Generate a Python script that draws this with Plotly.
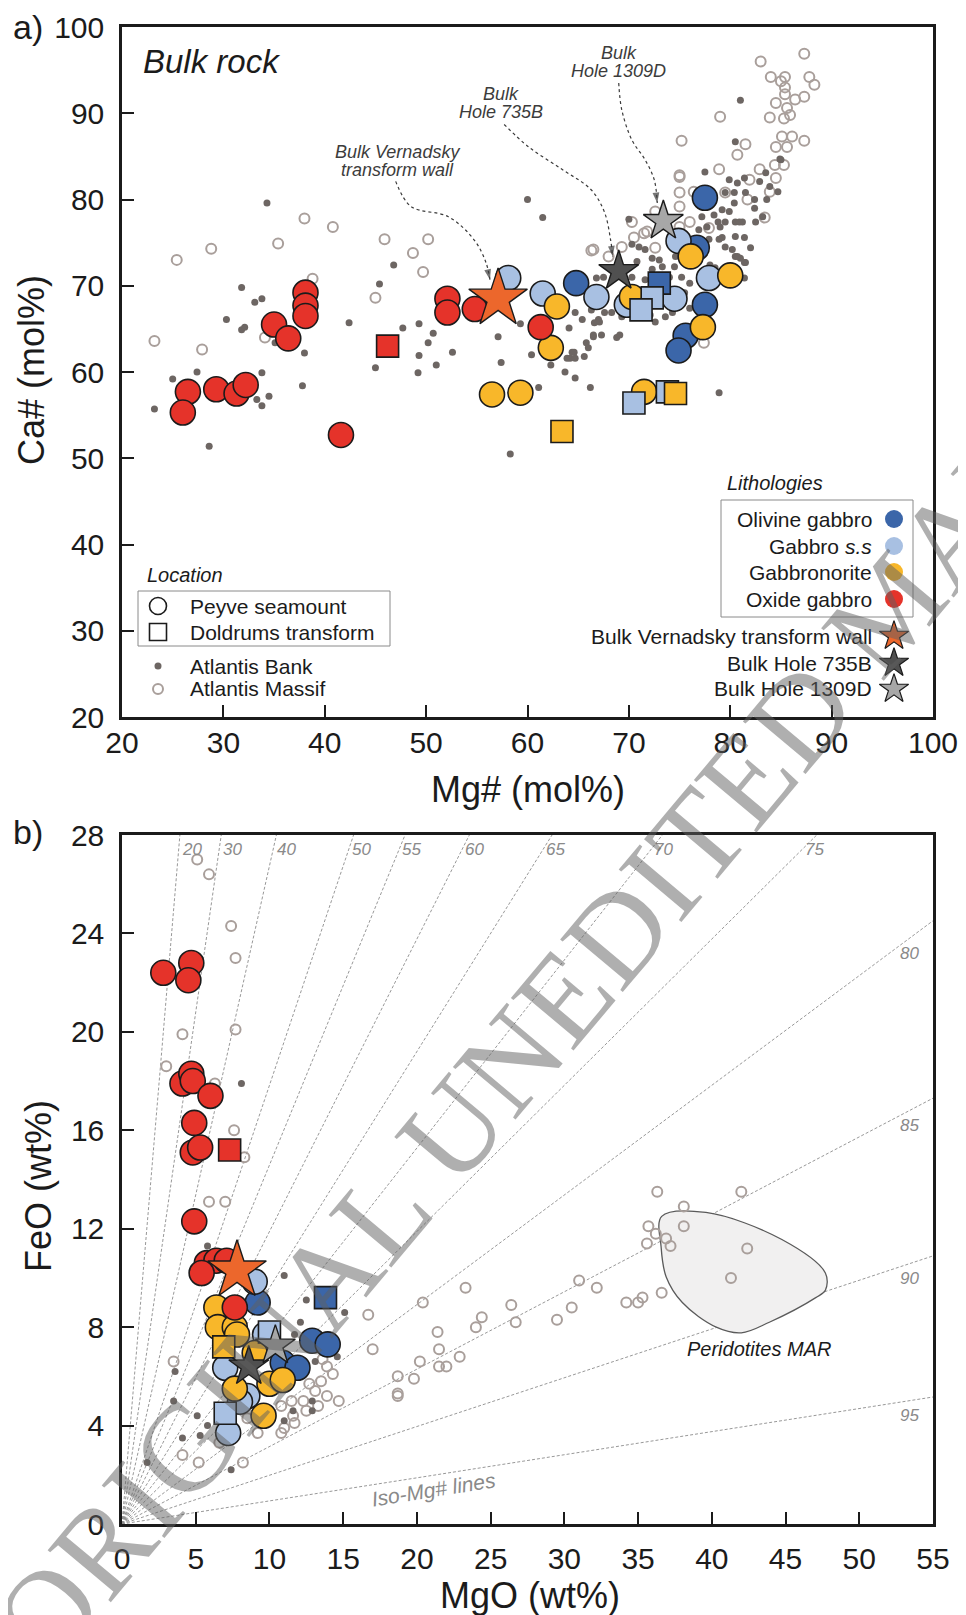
import plotly.graph_objects as go

# page (browser) pixel geometry; the html body adds an 8 px margin
BODY = 8
W, H = 966 - BODY, 1615 - BODY
PL, PR, PT, PB = 122, 933, 27, 1524          # plot-area edges in page pixels
ML, MT = PL - BODY, PT - BODY
MR, MB = W - (PR - BODY), H - (PB - BODY)

# ================= panel a) Mg# vs Ca# (mol%) =================
# Peyve seamount (circles) / Doldrums transform (squares)
ol_gab_mg = [64.8, 77.5, 76.7, 77.5, 75.6, 74.9]
ol_gab_ca = [70.3, 80.2, 74.4, 67.8, 64.2, 62.5]
ol_gab_sq_mg = [73.0]
ol_gab_sq_ca = [70.3]
gab_ss_mg = [58.1, 61.5, 66.8, 74.9, 69.8, 74.5, 77.9]
gab_ss_ca = [70.9, 69.1, 68.7, 75.2, 67.8, 68.5, 70.9]
gab_ss_sq_mg = [72.3, 71.2, 70.5, 73.8]
gab_ss_sq_ca = [68.6, 67.2, 56.4, 57.7]
gbn_mg = [62.9, 62.3, 56.5, 59.3, 76.1, 70.3, 80.0, 77.3, 71.5]
gbn_ca = [67.6, 62.8, 57.4, 57.6, 73.4, 68.7, 71.2, 65.2, 57.7]
gbn_sq_mg = [63.4, 74.6]
gbn_sq_ca = [53.1, 57.5]
ox_mg = [26.5, 26.0, 29.3, 31.3, 32.2, 41.6, 35.0, 36.4, 38.1, 38.1, 38.1, 52.1, 52.1, 54.8, 61.3]
ox_ca = [57.7, 55.3, 58.0, 57.5, 58.5, 52.7, 65.5, 63.9, 69.2, 67.7, 66.5, 68.5, 66.9, 67.3, 65.2]
ox_sq_mg = [46.2]
ox_sq_ca = [63.0]
star_names = ["Bulk Vernadsky transform wall", "Bulk Hole 735B", "Bulk Hole 1309D"]
star_mg = [57.1, 69.0, 73.4]
star_ca = [68.5, 71.7, 77.5]

bank_a_mg = [34.3, 31.8, 33.1, 33.8, 30.3, 31.8, 32.1, 38.0, 42.4, 46.8, 45.4, 47.7, 49.3, 50.7, 52.6,
             49.3, 35.1, 57.1, 25.0, 27.4, 23.2, 28.6, 33.8, 34.5, 33.3, 33.8, 37.8, 50.2, 49.2, 51.0,
             45.0, 57.4, 58.3, 59.3, 60.4, 61.1, 62.3, 63.7, 64.7, 66.2, 64.1, 64.7, 65.4, 65.8, 65.6,
             66.5, 67.0, 64.2, 64.4, 66.3, 66.8, 78.9, 77.5, 79.9, 80.7, 81.4, 82.9, 83.5, 84.9, 83.9,
             84.7, 83.6, 82.4, 81.5, 80.4, 79.5, 80.4, 79.2, 78.4, 79.9, 80.5, 81.2, 82.5, 83.2, 79.5,
             78.8, 79.0, 77.7, 77.2, 76.9, 79.2, 80.5, 81.4, 82.0, 80.2, 79.5, 78.9, 77.9, 80.5, 81.0,
             81.5, 78.0, 78.5, 79.2, 79.7, 78.9, 76.2, 74.6, 74.5, 75.2, 74.0, 73.3, 73.0, 72.3, 71.6,
             71.0, 70.3, 70.8, 70.3, 72.3, 71.6, 76.0, 75.5, 76.0, 74.3, 73.6, 72.6, 72.1, 67.5, 70.0,
             70.3, 69.3, 68.3, 67.6, 66.6, 67.1, 66.5, 67.3, 68.8, 69.1, 64.6, 66.0, 63.9, 64.7, 81.4,
             81.0, 80.5, 85.0, 82.4, 80.9, 81.4, 80.7, 60.0, 61.5]
bank_a_ca = [79.6, 69.8, 68.1, 68.5, 66.1, 64.9, 65.2, 62.2, 65.7, 72.4, 70.2, 65.1, 65.6, 64.5, 62.3,
             61.9, 63.4, 64.1, 59.2, 60.0, 55.7, 51.4, 59.9, 57.2, 56.8, 56.1, 58.4, 63.4, 59.9, 60.8,
             60.5, 61.1, 50.5, 65.6, 62.0, 58.2, 60.8, 60.0, 59.3, 58.2, 65.1, 66.9, 66.1, 63.4, 61.8,
             64.1, 66.1, 61.6, 62.3, 67.2, 70.9, 57.6, 83.2, 82.3, 81.9, 82.5, 82.1, 83.1, 84.7, 81.5,
             80.9, 80.0, 80.0, 80.8, 80.8, 80.8, 79.6, 78.8, 78.2, 78.6, 77.4, 77.4, 77.4, 78.0, 77.4,
             77.4, 76.8, 76.8, 78.0, 76.5, 75.6, 75.7, 75.6, 74.4, 74.2, 74.5, 75.4, 75.4, 73.4, 73.2,
             72.7, 72.4, 72.1, 71.6, 71.9, 71.0, 73.8, 73.4, 72.2, 71.0, 71.0, 72.2, 73.0, 73.2, 74.2,
             74.5, 74.8, 72.8, 71.0, 71.9, 70.7, 70.3, 69.2, 67.4, 66.9, 66.4, 65.8, 66.6, 71.0, 77.7,
             66.9, 66.4, 66.9, 66.9, 65.7, 65.8, 64.3, 64.3, 64.0, 64.3, 62.3, 62.8, 61.6, 61.6, 70.9,
             91.5, 86.7, 84.6, 79.0, 77.4, 72.7, 73.4, 80.0, 77.9]

massif_a_mg = [25.4, 28.8, 35.4, 38.0, 40.8, 45.9, 48.7, 50.2, 49.7, 45.0, 38.8, 23.2, 27.9, 34.1,
               83.0, 87.3, 84.0, 85.0, 85.4, 87.8, 88.3, 85.4, 85.4, 84.5, 86.4, 87.3, 85.6, 85.9,
               83.9, 85.3, 79.0, 85.1, 84.5, 85.6, 86.1, 87.3, 75.2, 81.5, 80.7, 84.4, 85.3, 82.9,
               81.9, 78.9, 75.0, 84.5, 83.9, 81.7, 83.4, 79.5, 75.0, 75.0, 76.4, 72.6, 71.5, 70.5,
               69.3, 68.0, 66.5, 76.0, 75.0, 74.3, 77.4, 76.2, 66.3, 75.0, 70.3, 71.8, 72.6, 77.9]
massif_a_ca = [73.0, 74.3, 74.9, 77.8, 76.8, 75.4, 73.8, 75.4, 71.6, 68.6, 70.8, 63.6, 62.6, 64.0,
               96.0, 96.9, 94.2, 93.7, 94.2, 94.2, 93.3, 93.0, 92.2, 91.2, 91.6, 91.9, 90.6, 89.8,
               89.5, 89.4, 89.6, 87.3, 86.1, 86.1, 87.3, 86.8, 86.8, 86.4, 85.2, 84.0, 84.0, 83.5,
               82.3, 83.5, 82.6, 82.5, 80.9, 80.0, 77.9, 80.8, 80.8, 79.2, 80.9, 78.6, 76.1, 75.6,
               74.5, 73.4, 74.2, 77.4, 76.8, 75.4, 63.4, 64.5, 74.1, 82.8, 77.4, 76.3, 74.4, 76.7]

# ================= panel b) MgO vs FeO (wt%) =================
ol_gab_mgo = [9.2, 12.9, 13.95, 10.9, 11.9]
ol_gab_feo = [9.0, 7.45, 7.3, 6.55, 6.35]
ol_gab_sq_mgo = [13.8]
ol_gab_sq_feo = [9.2]
gab_ss_mgo = [9.0, 9.7, 7.0, 8.5, 8.0, 7.2]
gab_ss_feo = [9.85, 7.7, 6.35, 5.2, 4.97, 3.7]
gab_ss_sq_mgo = [10.0, 7.0]
gab_ss_sq_feo = [7.8, 4.5]
gbn_mgo = [6.4, 6.5, 7.65, 7.8, 9.0, 10.0, 10.9, 7.65, 9.6]
gbn_feo = [8.8, 8.0, 8.0, 7.7, 6.95, 5.7, 5.85, 5.5, 4.4]
gbn_sq_mgo = [6.9]
gbn_sq_feo = [7.2]
ox_mgo = [2.8, 4.7, 4.5, 4.1, 4.7, 4.8, 6.0, 4.9, 4.8, 5.3, 4.9, 5.75, 6.4, 7.1, 5.4, 7.65]
ox_feo = [22.4, 22.8, 22.1, 17.9, 18.3, 18.0, 17.4, 16.3, 15.1, 15.3, 12.3, 10.6, 10.7, 10.7, 10.2, 8.8]
ox_sq_mgo = [7.3]
ox_sq_feo = [15.2]
star_mgo = [7.8, 8.6, 10.4]
star_feo = [10.3, 6.4, 7.25]

bank_b_mgo = [5.8, 11.0, 12.5, 15.1, 12.1, 11.7, 13.1, 14.6, 3.6, 3.5, 12.9, 12.9, 11.6, 11.0, 5.1,
              5.8, 5.3, 4.1, 1.7, 7.4, 10.0, 9.3, 8.1]
bank_b_feo = [11.3, 10.1, 9.1, 8.6, 8.2, 7.7, 6.6, 6.8, 6.2, 5.0, 5.0, 4.6, 4.6, 4.2, 4.4,
              4.0, 3.6, 3.5, 2.5, 2.2, 4.7, 4.4, 17.9]

massif_b_mgo = [5.1, 5.9, 7.4, 7.7, 4.1, 7.7, 3.0, 6.3, 7.6, 8.3, 5.9, 7.0, 3.5, 4.1, 5.2, 8.2,
                16.7, 17.0, 20.4, 23.3, 21.4, 21.5, 21.5, 22.0, 22.9, 20.2, 19.8, 18.7, 18.7, 18.7,
                24.4, 24.0, 13.6, 13.9, 14.3, 13.5, 13.1, 13.9, 14.7, 13.3, 12.5, 12.3, 11.5, 10.8,
                11.6, 11.0, 10.8, 11.7, 9.2, 10.0, 9.5, 8.5, 6.6, 12.7, 26.4, 26.7, 31.0, 32.2, 30.5,
                29.5, 34.2, 35.0, 35.3, 36.6, 36.3, 42.0, 38.1, 38.1, 35.7, 36.2, 35.6, 36.9, 37.2,
                42.4, 41.3]
massif_b_feo = [27.0, 26.4, 24.3, 23.0, 19.9, 20.1, 18.6, 17.9, 16.0, 14.9, 13.1, 13.1, 6.6, 2.8, 2.5, 2.5,
                8.5, 7.1, 9.0, 9.6, 7.8, 7.1, 6.4, 6.4, 6.8, 6.6, 5.9, 6.0, 5.3, 5.2,
                8.4, 8.0, 6.7, 6.4, 6.1, 5.8, 5.4, 5.2, 5.0, 4.8, 4.6, 5.0, 5.0, 4.8,
                4.4, 3.9, 3.7, 4.1, 3.7, 4.4, 4.6, 4.3, 3.3, 5.7, 8.9, 8.2, 9.9, 9.6, 8.8,
                8.3, 9.0, 9.0, 9.2, 9.4, 13.5, 13.5, 12.9, 12.1, 12.1, 11.8, 11.4, 11.6, 11.3,
                11.2, 10.0]

# Peridotites MAR field outline
perid_mgo = [36.6, 39.6, 44.75, 47.7, 47.7, 47.05, 43.9, 42.0, 40.3, 38.0, 36.9, 36.56, 36.6]
perid_feo = [12.5, 12.66, 11.56, 10.2, 9.5, 9.2, 8.2, 7.77, 8.0, 9.0, 10.05, 11.27, 12.5]

# iso-Mg# reference lines
iso_mg = [20, 30, 40, 50, 55, 60, 65, 70, 75, 80, 85, 90, 95]
M_FEO, M_MGO = 71.85, 40.30

# colours
C_OL = "#3b66a9"
C_GSS = "#a8c0e2"
C_GBN = "#f8b72a"
C_OX = "#e5332a"
C_STAR = ["#ec672c", "#505050", "#a7a7a7"]
C_BANK = "#6d6663"
C_MASSIF = "#a99f9b"
EDGE = "#1b1b1b"
FONT = "Liberation Sans"

fig = go.Figure()


def pts(x, y, xa, ya, symbol, size, color, lw=1.6, lc=EDGE):
    m = dict(symbol=symbol, size=size, color=color, line=dict(width=lw, color=lc))
    fig.add_trace(go.Scatter(x=x, y=y, xaxis=xa, yaxis=ya, mode="markers", marker=m,
                             showlegend=False, hoverinfo="skip", cliponaxis=False))


# ---- panel b background: iso lines, peridotite field ----
for m in iso_mg:
    r = (M_FEO / M_MGO) * (1 - m / 100) / (m / 100)
    if r * 55 <= 28:
        xe, ye = 55, 55 * r
    else:
        xe, ye = 28 / r, 28
    fig.add_trace(go.Scatter(x=[0, xe], y=[0, ye], xaxis="x2", yaxis="y2", mode="lines",
                             line=dict(color="#8c8c8c", width=0.9, dash="3px,2px"),
                             showlegend=False, hoverinfo="skip"))
    if r * 55 <= 28:
        fig.add_annotation(x=53.4, y=53.4 * r, xref="x2", yref="y2", text="<i>%d</i>" % m,
                           showarrow=False, yshift=-15,
                           font=dict(family=FONT, size=17, color="#8a8a8a"),
                           xanchor="center", yanchor="middle")
    else:
        fig.add_annotation(x=27.4 / r, y=27.4, xref="x2", yref="y2", text="<i>%d</i>" % m,
                           showarrow=False, xshift=13,
                           font=dict(family=FONT, size=17, color="#8a8a8a"),
                           xanchor="center", yanchor="middle")

fig.add_trace(go.Scatter(x=perid_mgo, y=perid_feo, xaxis="x2", yaxis="y2", mode="lines",
                         line=dict(color="#5a5a5a", width=1.3, shape="spline", smoothing=1.0),
                         fill="toself", fillcolor="#f1f0f0", showlegend=False, hoverinfo="skip"))

# ---- background datasets ----
pts(massif_a_mg, massif_a_ca, "x", "y", "circle-open", 10, C_MASSIF, lw=2)
pts(bank_a_mg, bank_a_ca, "x", "y", "circle", 7, C_BANK, lw=0)
pts(massif_b_mgo, massif_b_feo, "x2", "y2", "circle-open", 10, C_MASSIF, lw=2)
pts(bank_b_mgo, bank_b_feo, "x2", "y2", "circle", 7, C_BANK, lw=0)

# ---- sample data ----
for xa, ya, sets in [
    ("x", "y", [(ol_gab_mg, ol_gab_ca, ol_gab_sq_mg, ol_gab_sq_ca, C_OL),
                (gab_ss_mg, gab_ss_ca, gab_ss_sq_mg, gab_ss_sq_ca, C_GSS),
                (gbn_mg, gbn_ca, gbn_sq_mg, gbn_sq_ca, C_GBN),
                (ox_mg, ox_ca, ox_sq_mg, ox_sq_ca, C_OX)]),
    ("x2", "y2", [(ol_gab_mgo, ol_gab_feo, ol_gab_sq_mgo, ol_gab_sq_feo, C_OL),
                  (gab_ss_mgo, gab_ss_feo, gab_ss_sq_mgo, gab_ss_sq_feo, C_GSS),
                  (gbn_mgo, gbn_feo, gbn_sq_mgo, gbn_sq_feo, C_GBN),
                  (ox_mgo, ox_feo, ox_sq_mgo, ox_sq_feo, C_OX)]),
]:
    for cx, cy, sx, sy, col in sets:
        pts(cx, cy, xa, ya, "circle", 25, col)
    for cx, cy, sx, sy, col in sets:
        pts(sx, sy, xa, ya, "square", 22, col)

star_sizes = [44, 30, 30]
for i in range(3):
    pts([star_mg[i]], [star_ca[i]], "x", "y", "star", star_sizes[i], C_STAR[i], lw=1.4)
    pts([star_mgo[i]], [star_feo[i]], "x2", "y2", "star", star_sizes[i], C_STAR[i], lw=1.4)

# ---- dotted call-out arrows (panel a) ----
arrows = [
    ([47.0, 48.5, 52.2, 54.75, 55.9, 56.3], [82.1, 79.2, 78.0, 75.3, 72.7, 70.7]),
    ([57.7, 60.1, 63.4, 66.3, 67.6, 68.2, 68.4], [88.7, 86.1, 83.5, 81.1, 78.5, 75.3, 73.4]),
    ([69.0, 69.3, 70.3, 71.6, 72.5, 72.8], [93.5, 90.4, 86.9, 84.6, 82.3, 79.6]),
]
for ax_, ay_ in arrows:
    n = len(ax_)
    fig.add_trace(go.Scatter(x=ax_, y=ay_, xaxis="x", yaxis="y", mode="lines+markers",
                             line=dict(color="#3a3a3a", width=1.2, dash="dot", shape="spline"),
                             marker=dict(symbol="arrow", size=[0] * (n - 1) + [11], color="#3a3a3a",
                                         angleref="previous", line=dict(width=0)),
                             showlegend=False, hoverinfo="skip"))

call_text = [("Bulk Vernadsky", "transform wall", 47.2, 84.5),
             ("Bulk", "Hole 735B", 57.4, 91.2),
             ("Bulk", "Hole 1309D", 69.0, 95.9)]
for t1, t2, cx, cy in call_text:
    fig.add_annotation(x=cx, y=cy, xref="x", yref="y", text="<i>%s</i>" % t1, showarrow=False,
                       yshift=9, font=dict(family=FONT, size=18, color="#3c3c3c"))
    fig.add_annotation(x=cx, y=cy, xref="x", yref="y", text="<i>%s</i>" % t2, showarrow=False,
                       yshift=-9, font=dict(family=FONT, size=18, color="#3c3c3c"))


# ================= legends & labels (page-pixel placement) =================
def fx(px):
    return (px - PL) / (PR - PL)


def fy(py):
    return (PB - py) / (PB - PT)


def ptxt(x, y, text, size=21, anchor="left", italic=False, color="#1b1b1b", angle=0):
    if italic:
        text = "<i>%s</i>" % text
    fig.add_annotation(x=fx(x), y=fy(y), xref="paper", yref="paper", text=text, showarrow=False,
                       xanchor=anchor, yanchor="middle", textangle=angle,
                       font=dict(family=FONT, size=size, color=color))


def lmark(x, y, symbol, size, color, lw=1.5, lc=EDGE):
    fig.add_trace(go.Scatter(x=[x], y=[y], xaxis="x3", yaxis="y3", mode="markers",
                             marker=dict(symbol=symbol, size=size, color=color,
                                         line=dict(width=lw, color=lc)),
                             showlegend=False, hoverinfo="skip", cliponaxis=False))


# location legend
fig.add_shape(type="rect", xref="x3", yref="y3", x0=138, x1=390, y0=591, y1=646,
              line=dict(color="#8a8a8a", width=1))
ptxt(145, 575, "Location", italic=True, size=20)
lmark(158, 606, "circle-open", 17, EDGE, lw=1.6)
ptxt(188, 606, "Peyve seamount")
lmark(158, 632, "square-open", 17, EDGE, lw=1.6)
ptxt(188, 632, "Doldrums transform")
lmark(158, 666, "circle", 7, C_BANK, lw=0)
ptxt(188, 666, "Atlantis Bank")
lmark(158, 689, "circle-open", 10, C_MASSIF, lw=2)
ptxt(188, 689, "Atlantis Massif")

# lithology legend
fig.add_shape(type="rect", xref="x3", yref="y3", x0=721, x1=913, y0=500, y1=617,
              line=dict(color="#8a8a8a", width=1))
ptxt(725, 483, "Lithologies", italic=True, size=20)
lith = [("Olivine gabbro", C_OL, 519), ("Gabbro <i>s.s</i>", C_GSS, 546),
        ("Gabbronorite", C_GBN, 572), ("Oxide gabbro", C_OX, 599)]
for name, col, yy in lith:
    ptxt(874, yy, name, anchor="right")
    lmark(894, yy, "circle", 18, col, lw=0)
for i, yy in enumerate([636, 663, 689]):
    ptxt(874, yy, star_names[i], anchor="right")
    lmark(894, yy, "star", 22, C_STAR[i], lw=1.2)

# ================= texts =================
ptxt(141, 62, "Bulk rock", size=33, italic=True)
ptxt(28, 27, "a)", size=34, anchor="center")
ptxt(28, 832, "b)", size=34, anchor="center")
ptxt(528, 789, "Mg# (mol%)", size=36, anchor="center")
ptxt(530, 1595, "MgO (wt%)", size=36, anchor="center")
ptxt(31, 370, "Ca# (mol%)", size=36, anchor="center", angle=-90)
ptxt(38, 1186, "FeO (wt%)", size=36, anchor="center", angle=-90)
fig.add_annotation(x=43.2, y=7.1, xref="x2", yref="y2", text="<i>Peridotites MAR</i>",
                   showarrow=False, font=dict(family=FONT, size=20, color="#1b1b1b"))
fig.add_annotation(x=21.1, y=1.4, xref="x2", yref="y2", text="<i>Iso-Mg# lines</i>",
                   showarrow=False, textangle=-9, font=dict(family=FONT, size=21, color="#8a8a8a"))

# watermark (axis-referenced so it is not shifted back inside the paper)
fig.add_annotation(x=692, y=844, xref="x3", yref="y3",
                   text="ORIGINAL UNEDITED MANUSCRIPT", showarrow=False, textangle=-50,
                   font=dict(family="Liberation Serif", size=125, color="rgba(95,95,95,0.5)"))

# ================= layout =================
axis_common = dict(showline=True, linewidth=2.5, linecolor=EDGE, mirror=True, ticks="inside",
                   ticklen=12, tickwidth=2, tickcolor=EDGE, showgrid=False, zeroline=False,
                   automargin=False,
                   tickfont=dict(family=FONT, size=30, color="#1b1b1b"), fixedrange=True)
ya_top = [(PB - 717) / (PB - PT), 1.0]
ya_bot = [0.0, (PB - 835) / (PB - PT)]
fig.update_layout(
    width=W, height=H, margin=dict(l=ML, r=MR, t=MT, b=MB, pad=0, autoexpand=False),
    paper_bgcolor="white", plot_bgcolor="rgba(0,0,0,0)", showlegend=False,
    xaxis=dict(domain=[0, 1], anchor="y", range=[20, 100], tickvals=list(range(20, 101, 10)),
               ticklabelstandoff=-3, **axis_common),
    yaxis=dict(domain=ya_top, anchor="x", range=[20, 100], tickvals=list(range(20, 101, 10)),
               ticklabelstandoff=9, **axis_common),
    xaxis2=dict(domain=[0, 1], anchor="y2", range=[0, 55], tickvals=list(range(0, 56, 5)),
                ticklabelstandoff=6, **axis_common),
    yaxis2=dict(domain=ya_bot, anchor="x2", range=[0, 28], tickvals=list(range(0, 29, 4)),
                ticklabelstandoff=9, **axis_common),
    xaxis3=dict(domain=[0, 1], anchor="y3", range=[PL, PR], visible=False, fixedrange=True,
                automargin=False),
    yaxis3=dict(domain=[0, 1], anchor="x3", range=[PB, PT], visible=False, fixedrange=True,
                automargin=False),
)

fig.write_html("out.html")
